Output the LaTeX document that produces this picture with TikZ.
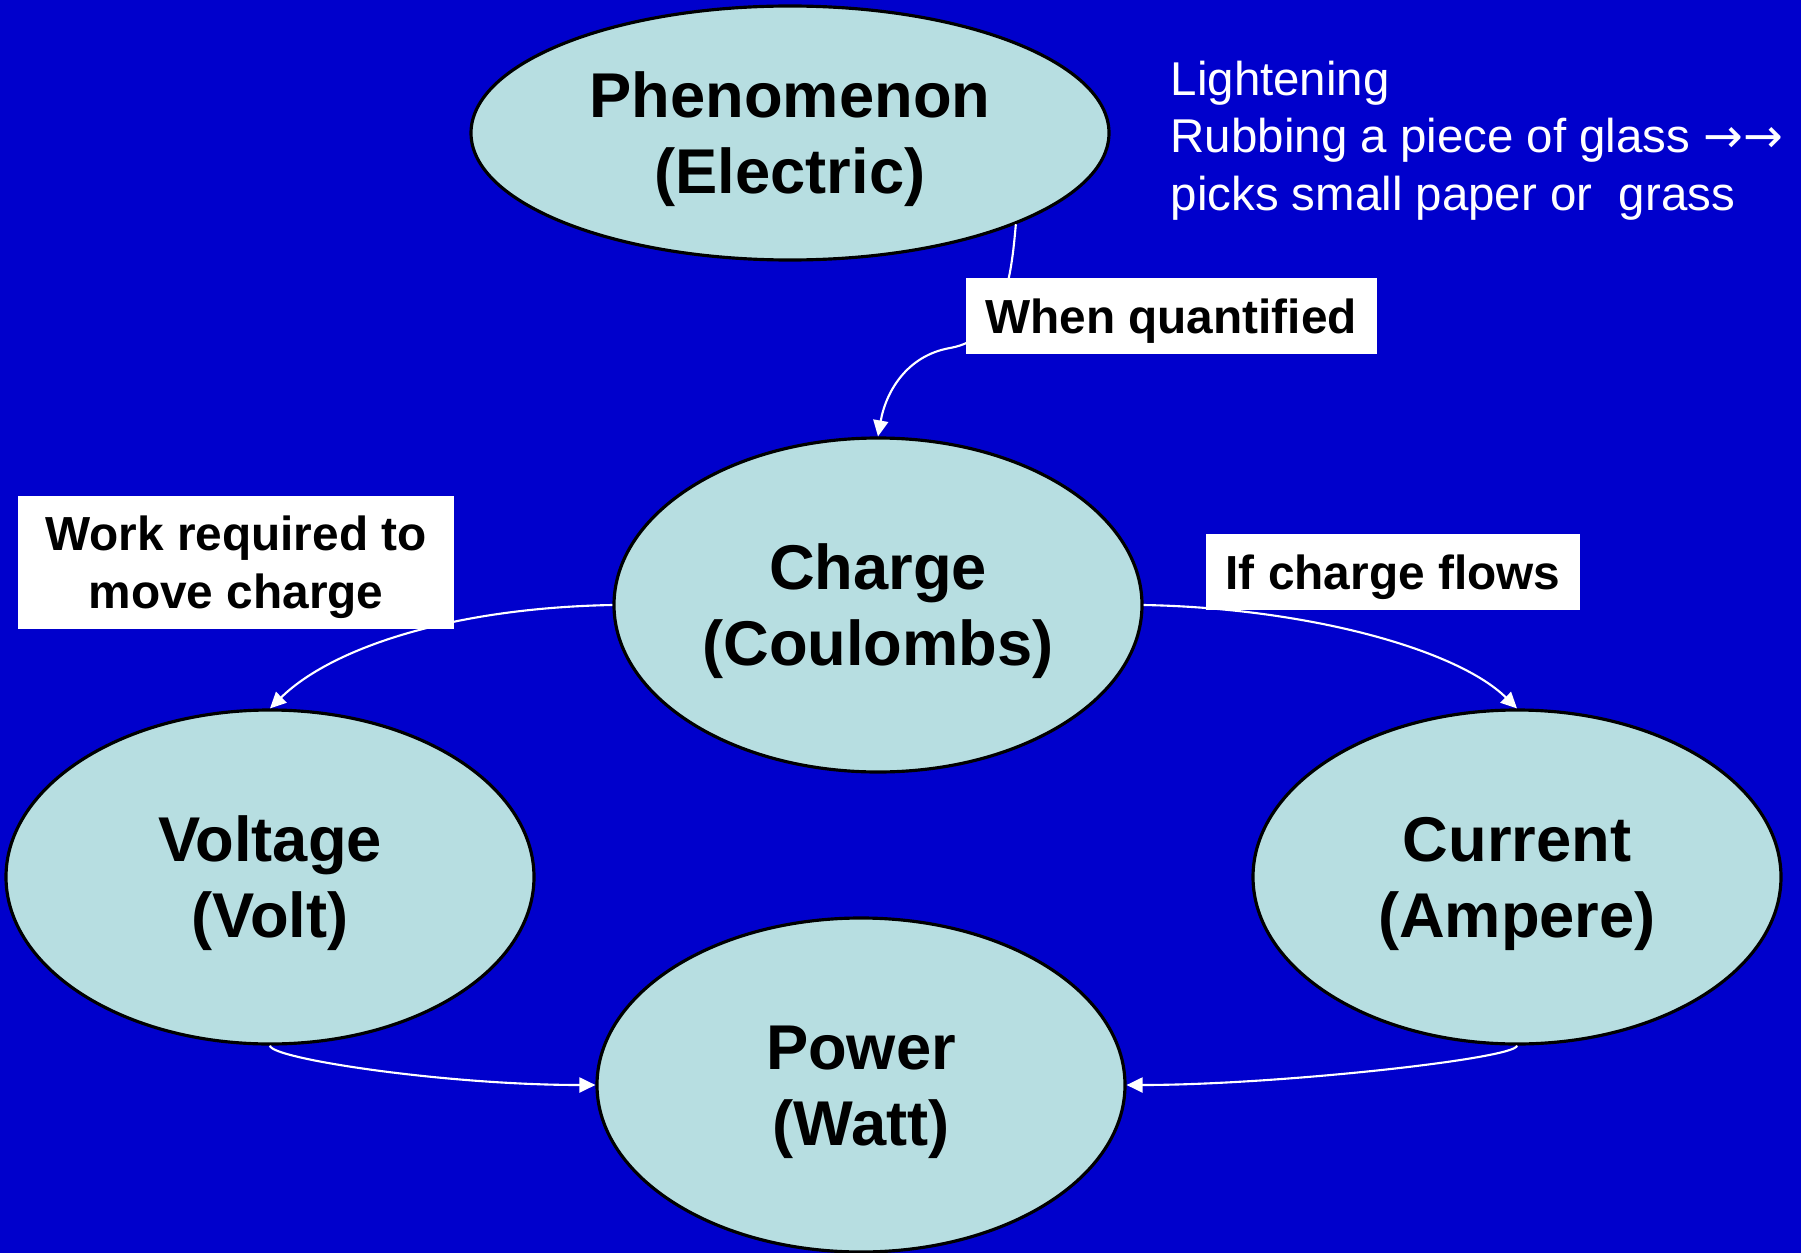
\documentclass[tikz,border=0pt]{standalone}
\usepackage{fontspec}
\setmainfont{Liberation Sans}
\newfontfamily\arrowfont{DejaVu Sans}
\usetikzlibrary{shapes.geometric,arrows.meta}
\definecolor{slideblue}{RGB}{0,0,204}
\definecolor{bubblefill}{RGB}{183,222,225}
\newcommand{\bstrut}{\rule{0pt}{16.5pt}}
\newcommand{\tstrut}{\rule{0pt}{12.7pt}}
\tikzset{
  bubble/.style={ellipse,draw=black,line width=0.9pt,fill=bubblefill,inner sep=0pt,align=center,
    font=\fontsize{18}{21.5}\selectfont\bfseries},
  tag/.style={fill=white,inner sep=0pt,align=center,font=\fontsize{13.6}{16.4}\selectfont\bfseries},
  link/.style={white,line width=0.6pt,-{Triangle[length=0.16cm,width=0.15cm]}}
}
\begin{document}
\begin{tikzpicture}
        \fill[slideblue] (0,0) rectangle (18.01,-12.53);
        \useasboundingbox (0,0) rectangle (18.01,-12.53);
        \node[bubble,minimum width=6.38cm,minimum height=2.54cm](phen) at (7.90,-1.33) {\bstrut Phenomenon\\(Electric)};
        \node[bubble,minimum width=5.28cm,minimum height=3.34cm](charge) at (8.78,-6.05) {\bstrut Charge\\(Coulombs)};
        \node[bubble,minimum width=5.28cm,minimum height=3.34cm](volt) at (2.70,-8.77) {\bstrut Voltage\\(Volt)};
        \node[bubble,minimum width=5.28cm,minimum height=3.34cm](curr) at (15.17,-8.77) {\bstrut Current\\(Ampere)};
        \node[bubble,minimum width=5.28cm,minimum height=3.34cm](power) at (8.61,-10.85) {\bstrut Power\\(Watt)};
        \node[anchor=north west,align=left,inner sep=0pt,text=white,font=\fontsize{13.5}{16.4}\selectfont](facts) at (11.70,-0.60)
          {Lightening\\Rubbing a piece of glass {\arrowfont →→}\\picks small paper or\ \ grass};
        \coordinate(qbend) at (9.50,-3.48);
        \draw[link](phen.-22) to[out=-95,in=10] (qbend) to[out=190,in=80] (charge.north);
        \draw[link](charge.west) .. controls +(-1.64,-0.03) and +(0.60,0.59) .. (volt.north);
        \draw[link](charge.east) .. controls +(1.64,-0.03) and +(-0.60,0.59) .. (curr.north);
        \draw[link](volt.south) .. controls +(0,-0.13) and +(-1.5,0) .. (power.west);
        \draw[link](curr.south) .. controls +(0,-0.13) and +(1.5,0) .. (power.east);
        \node[tag,minimum width=4.11cm,minimum height=0.76cm](quant) at (11.71,-3.16) {\tstrut When quantified};
        \node[tag,minimum width=4.36cm,minimum height=1.33cm](work) at (2.36,-5.62) {\tstrut Work required to\\move charge\hspace{0.1cm}};
        \node[tag,minimum width=3.74cm,minimum height=0.76cm](flows) at (13.93,-5.72) {\tstrut If charge flows};
\end{tikzpicture}
\end{document}
